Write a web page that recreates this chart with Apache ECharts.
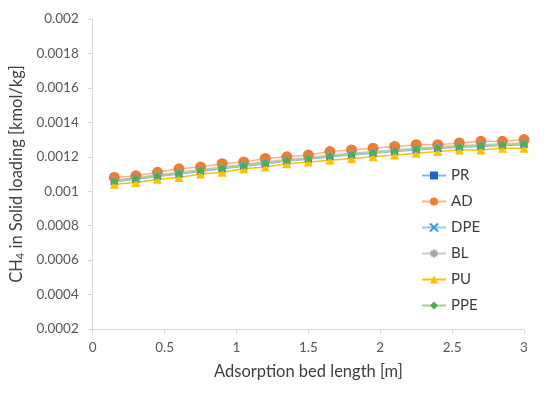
<!DOCTYPE html>
<html>
<head>
<meta charset="utf-8">
<script src="https://cdn.jsdelivr.net/npm/echarts@6/dist/echarts.min.js"></script>
<style>html,body{margin:0;padding:0;background:#fff}#c{width:550px;height:394px}</style>
</head>
<body>
<div id="c"></div>
<script>
var xs = [0.15,0.3,0.45,0.6,0.75,0.9,1.05,1.2,1.35,1.5,1.65,1.8,1.95,2.1,2.25,2.4,2.55,2.7,2.85,3.0];
var PR  = [0.001055,0.00107,0.001085,0.0011,0.001115,0.00113,0.001145,0.00116,0.001175,0.001185,0.0012,0.00121,0.00122,0.00123,0.00124,0.001248,0.001255,0.00126,0.001265,0.00127];
var AD  = [0.00108,0.00109,0.00111,0.00113,0.00114,0.00116,0.00117,0.00119,0.0012,0.00121,0.00123,0.00124,0.00125,0.00126,0.00127,0.00127,0.00128,0.00129,0.00129,0.0013];
var DPE = [0.00106,0.001075,0.00109,0.001105,0.00112,0.001135,0.00115,0.001165,0.00118,0.00119,0.001205,0.001215,0.001225,0.001235,0.001245,0.001253,0.00126,0.001265,0.00127,0.001275];
var BL  = [0.001065,0.00108,0.001095,0.00111,0.001125,0.00114,0.001155,0.00117,0.001185,0.001195,0.00121,0.00122,0.00123,0.00124,0.00125,0.001258,0.001265,0.00127,0.001275,0.00128];
var PU  = [0.00104,0.00105,0.00107,0.00108,0.0011,0.00111,0.00113,0.00114,0.00116,0.00117,0.00118,0.00119,0.0012,0.00121,0.00122,0.00123,0.00124,0.00124,0.00125,0.00125];
var PPE = [0.00106,0.001075,0.00109,0.001105,0.00112,0.001135,0.00115,0.001165,0.00118,0.00119,0.001205,0.001215,0.001225,0.001235,0.001245,0.001253,0.00126,0.001265,0.00127,0.001275];
var seriesNames = ['PR','AD','DPE','BL','PU','PPE'];

function pts(arr){ return xs.map(function(x,i){ return [x, arr[i]]; }); }
var FONT = 'Lato';
var styles = {
  PR:  {sym:'rect', size:7, line:'#8fb4e3', mark:'#1f67c4'},
  AD:  {sym:'circle', size:11, line:'#f7b48a', mark:'#ed7d31'},
  DPE: {sym:'path://M0,0L10,10M10,0L0,10', size:7, line:'#9dc8ec', mark:'#3a9bdc', stroke:true},
  BL:  {sym:'path://M5,0L5,10M0,5L10,5M1.5,1.5L8.5,8.5M8.5,1.5L1.5,8.5', size:7, line:'#c8c8c8', mark:'#a5a5a5', stroke:true},
  PU:  {sym:'triangle', size:9, line:'#ffc000', mark:'#ffc000'},
  PPE: {sym:'diamond', size:8, line:'#a9d18e', mark:'#4caf50'}
};
var dataMap = {PR:PR, AD:AD, DPE:DPE, BL:BL, PU:PU, PPE:PPE};
var series = seriesNames.map(function(n){
  var s = styles[n];
  var it = {color: s.mark};
  if (s.stroke) { it = {color: s.mark, borderColor: s.mark, borderWidth: 1.5}; }
  return {
    name: n, type: 'line', data: pts(dataMap[n]),
    symbol: s.sym, symbolSize: s.size, showAllSymbol: true,
    lineStyle: {color: s.line, width: 1.5},
    itemStyle: it,
    emphasis: {disabled: true},
    animation: false
  };
});

var chart = echarts.init(document.getElementById('c'), null, {renderer:'canvas'});
chart.setOption({
  animation: false,
  textStyle: {fontFamily: FONT},
  grid: {left: 90, right: 26, top: 19, bottom: 65, containLabel: false},
  legend: {
    orient: 'vertical', left: 416, top: 163,
    itemWidth: 24, itemHeight: 10, itemGap: 11,
    textStyle: {fontFamily: FONT, fontSize: 15, color: '#404040'},
    data: seriesNames
  },
  xAxis: {
    type: 'value', min: 0, max: 3, interval: 0.5,
    name: 'Adsorption bed length [m]', nameLocation: 'middle', nameGap: 34,
    nameTextStyle: {fontFamily: FONT, fontSize: 16.5, color: '#404040'},
    axisLine: {show: true, lineStyle: {color: '#d9d9d9', width: 1}},
    axisTick: {show: true, length: 5, lineStyle: {color: '#d9d9d9'}},
    axisLabel: {fontFamily: FONT, fontSize: 13.5, color: '#595959', margin: 12},
    splitLine: {show: false}
  },
  yAxis: {
    type: 'value', min: 0.0002, max: 0.002, interval: 0.0002,
    name: '{a|CH}{s|4}{a| in Solid loading [kmol/kg]}', nameLocation: 'middle', nameGap: 62,
    nameTextStyle: {
      fontFamily: FONT, fontSize: 16.5, color: '#404040',
      rich: {
        a: {fontFamily: FONT, fontSize: 16.5, color: '#404040'},
        s: {fontFamily: FONT, fontSize: 11, color: '#404040', padding: [7,0,0,0]}
      }
    },
    axisLine: {show: true, lineStyle: {color: '#d9d9d9', width: 1}},
    axisTick: {show: true, length: 5, lineStyle: {color: '#d9d9d9'}},
    axisLabel: {fontFamily: FONT, fontSize: 13.5, color: '#595959', margin: 14,
      formatter: function(v){ return String(parseFloat(v.toFixed(5))); }},
    splitLine: {show: false}
  },
  series: series
});
</script>
</body>
</html>
